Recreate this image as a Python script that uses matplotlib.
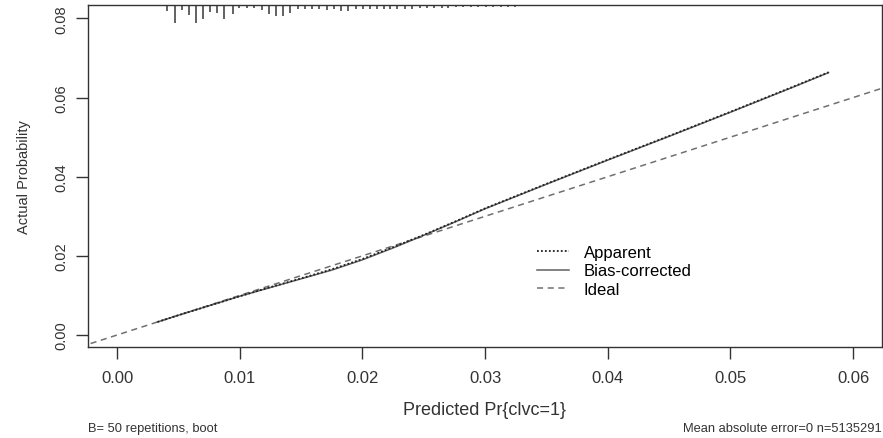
import matplotlib

matplotlib.use("Agg")
import matplotlib.pyplot as plt
import matplotlib.transforms as mtransforms

plt.rcParams["font.family"] = ["Liberation Sans", "DejaVu Sans"]

# calibration curves (predicted vs. observed probability)
pred = [0.0033, 0.005, 0.0075, 0.010, 0.0125, 0.015, 0.0175, 0.020, 0.0225,
        0.025, 0.0275, 0.030, 0.035, 0.040, 0.045, 0.050, 0.055, 0.058]
apparent = [0.0033, 0.0050, 0.0074, 0.0098, 0.0121, 0.0143, 0.0166, 0.0192, 0.0222,
            0.0253, 0.0286, 0.0320, 0.0382, 0.0443, 0.0503, 0.0564, 0.0626, 0.0664]
bias_corrected = [0.0033, 0.0050, 0.0074, 0.0098, 0.0120, 0.0142, 0.0164, 0.0190, 0.0220,
                  0.0252, 0.0285, 0.0319, 0.0381, 0.0442, 0.0502, 0.0563, 0.0625, 0.0663]
ideal = [-0.01, 0.07]

# distribution of predictions (spike histogram along the top)
rug_x = [0.00408, 0.00473, 0.00527, 0.00584, 0.00644, 0.00701, 0.00758, 0.00815,
         0.00872, 0.00943, 0.00995, 0.01057, 0.01117, 0.01180, 0.01239, 0.01296,
         0.01353, 0.01410, 0.01473, 0.01533, 0.01587, 0.01647, 0.01709, 0.01769,
         0.01826, 0.01883, 0.01946, 0.02003, 0.02062, 0.02117, 0.02177, 0.02225,
         0.02283, 0.02348, 0.02405, 0.02470, 0.02525, 0.02584, 0.02647, 0.02698,
         0.02763, 0.02821, 0.02886, 0.02943, 0.03008, 0.03065, 0.03128, 0.03185,
         0.03245]
rug_freq = [6, 18, 5, 10, 18, 14, 7, 8, 14, 9,
            3, 3, 3, 5, 9, 11, 11, 8, 4, 4, 4, 4, 5, 4, 6, 6, 4, 4, 4, 4, 4,
            4, 4, 4, 4, 3, 3, 3, 3, 3, 2, 2, 2, 2, 2, 2, 2, 2, 2]

x_ticks = [0.00, 0.01, 0.02, 0.03, 0.04, 0.05, 0.06]
y_ticks = [0.00, 0.02, 0.04, 0.06, 0.08]

W, H = 883, 439
L, R, T, B = 87.5, 882, 6, 348
fig = plt.figure(figsize=(W / 100, H / 100), dpi=100)
ax = fig.add_axes([L / W, (H - B) / H, (R - L) / W, (B - T) / H])
ax.set_xlim(-0.00241, 0.06236)
ax.set_ylim(-0.00303, 0.0834)

ax.plot(ideal, ideal, color="#707070", linestyle=(0, (4, 3)), linewidth=1.1, label="Ideal")
ax.plot(pred, bias_corrected, color="#606060", linestyle="-", linewidth=1.1, label="Bias-corrected")
ax.plot(pred, apparent, color="#202020", linestyle=(0, (1, 1.2)), linewidth=1.3, label="Apparent")

# spikes hang down from the top border, length in pixels of the plot height
trans = mtransforms.blended_transform_factory(ax.transData, ax.transAxes)
px = 1.0 / (B - T)
ax.vlines(rug_x, [1 - f * px for f in rug_freq], 1, transform=trans,
          color="#555555", linewidth=1.3)

handles, labels = ax.get_legend_handles_labels()
order = [2, 1, 0]
ax.legend([handles[i] for i in order], [labels[i] for i in order],
          loc="upper left", bbox_to_anchor=((537 - L) / (R - L), (B - 246) / (B - T)),
          frameon=False, fontsize=12, handlelength=1.9, handletextpad=0.9,
          labelspacing=0.2, borderaxespad=0, borderpad=0)

ax.set_xticks(x_ticks)
ax.set_xticklabels([f"{v:.2f}" for v in x_ticks])
ax.set_yticks(y_ticks)
ax.set_yticklabels([f"{v:.2f}" for v in y_ticks], rotation=90, va="center")
ax.tick_params(axis="x", direction="out", length=8.5, width=1, color="#333333",
               labelsize=12, labelcolor="#333333", pad=8)
ax.tick_params(axis="y", direction="out", length=9, width=1, color="#333333",
               labelsize=10.5, labelcolor="#333333", pad=5)
for s in ax.spines.values():
    s.set_color("#333333")
    s.set_linewidth(1)

ax.set_xlabel("Predicted Pr{clvc=1}", fontsize=13, color="#333333", va="center")
ax.xaxis.set_label_coords(0.5, (B - 411) / (B - T))
ax.set_ylabel("Actual Probability", fontsize=10.5, color="#333333", va="center")
ax.yaxis.set_label_coords((24 - L) / (R - L), 0.5)

fig.text(88 / W, 1 - 429 / H, "B= 50 repetitions, boot", fontsize=9.3,
         color="#333333", ha="left", va="center")
fig.text(882 / W, 1 - 429 / H, "Mean absolute error=0 n=5135291", fontsize=9.3,
         color="#333333", ha="right", va="center")

fig.savefig("out.png", dpi=100)
